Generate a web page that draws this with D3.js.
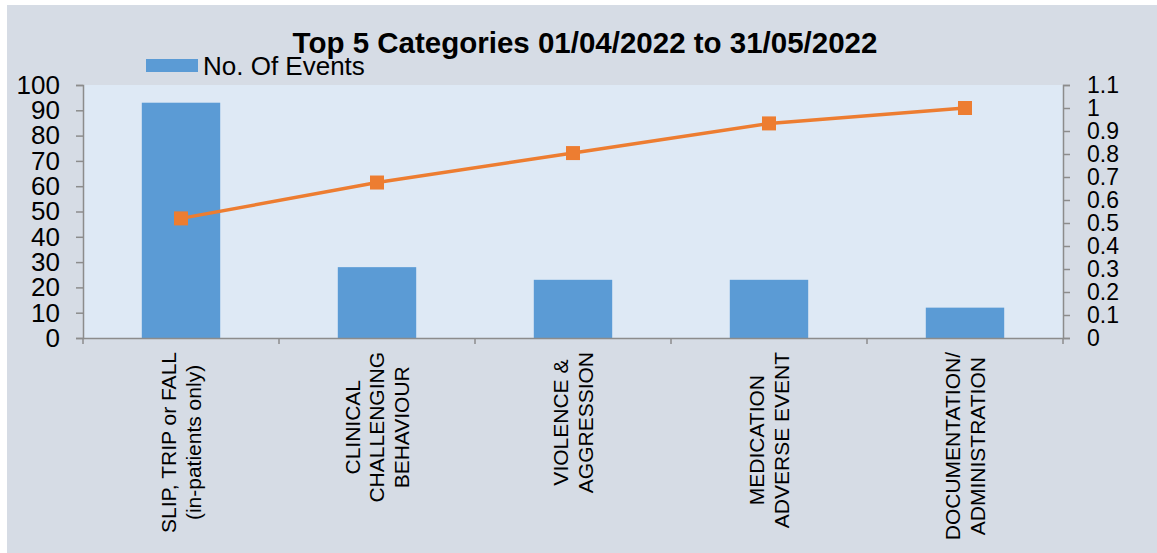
<!DOCTYPE html>
<html>
<head>
<meta charset="utf-8">
<script src="https://cdn.jsdelivr.net/npm/d3@7"></script>
<style>
  html, body { margin: 0; padding: 0; background: #ffffff; }
  svg { display: block; font-family: "Liberation Sans", Arial, sans-serif; }
</style>
</head>
<body>
<svg id="chart" width="1157" height="553"></svg>
<script>
// ---- data ----
const chartTitle = "Top 5 Categories 01/04/2022 to 31/05/2022";
const legendLabel = "No. Of Events";
const categories = [
  ["SLIP, TRIP or FALL", "(in-patients only)"],
  ["CLINICAL", "CHALLENGING", "BEHAVIOUR"],
  ["VIOLENCE &", "AGGRESSION"],
  ["MEDICATION", "ADVERSE EVENT"],
  ["DOCUMENTATION/", "ADMINISTRATION"]
];
const events = [93, 28, 23, 23, 12];
const cumulativeShare = [0.52, 0.676, 0.804, 0.933, 1.0];
const leftTicks = [0, 10, 20, 30, 40, 50, 60, 70, 80, 90, 100];
const rightTicks = [0, 0.1, 0.2, 0.3, 0.4, 0.5, 0.6, 0.7, 0.8, 0.9, 1.0, 1.1];

// ---- layout ----
const svg = d3.select("#chart");
const W = 1157, H = 553;
const plot = { left: 83, right: 1063, top: 85, bottom: 338 };

svg.append("rect").attr("x", 7).attr("y", 5).attr("width", W - 7).attr("height", H - 5)
  .attr("fill", "#d6dce5");

svg.append("rect").attr("x", plot.left).attr("y", plot.top)
  .attr("width", plot.right - plot.left).attr("height", plot.bottom - plot.top)
  .attr("fill", "#dee9f5");

const keys = categories.map((c, i) => "c" + i);
const x = d3.scaleBand().domain(keys).range([plot.left, plot.right]).paddingInner(0.6).paddingOuter(0.3);
const xOuter = d3.scaleBand().domain(keys).range([plot.left, plot.right]).padding(0);
const yL = d3.scaleLinear().domain([0, 100]).range([plot.bottom, plot.top]);
const yR = d3.scaleLinear().domain([0, 1.1]).range([plot.bottom, plot.top]);

// bars
svg.append("g").selectAll("rect").data(events).join("rect")
  .attr("x", (d, i) => x(keys[i]))
  .attr("width", x.bandwidth())
  .attr("y", d => yL(d))
  .attr("height", d => yL(0) - yL(d))
  .attr("fill", "#5b9bd5");

// axes
const axisColor = "#8c8c8c";
const gL = svg.append("g").attr("transform", `translate(${plot.left},0)`)
  .call(d3.axisLeft(yL).tickValues(leftTicks).tickSize(7).tickPadding(16).tickFormat(d3.format("d")));
gL.selectAll("text").attr("font-size", 26).attr("fill", "#000").attr("font-family", "Liberation Sans, Arial, sans-serif");

const gR = svg.append("g").attr("transform", `translate(${plot.right},0)`)
  .call(d3.axisRight(yR).tickValues(rightTicks).tickSize(7).tickPadding(17).tickFormat(d => d3.format("~g")(+d.toFixed(1))));
gR.selectAll("text").attr("font-size", 23).attr("fill", "#000").attr("font-family", "Liberation Sans, Arial, sans-serif");

const gX = svg.append("g").attr("transform", `translate(0,${plot.bottom})`)
  .call(d3.axisBottom(xOuter).tickValues([]).tickSizeOuter(0));
// category boundary ticks
const bounds = keys.map(k => xOuter(k)).concat([plot.right]);
gX.selectAll("line.b").data(bounds).join("line").attr("class", "b")
  .attr("x1", d => d).attr("x2", d => d).attr("y1", 0).attr("y2", 6)
  .attr("stroke", axisColor).attr("stroke-width", 1.5);

[gL, gR, gX].forEach(g => {
  g.selectAll("path.domain").attr("stroke", axisColor).attr("stroke-width", 1.5);
  g.selectAll(".tick line").attr("stroke", axisColor).attr("stroke-width", 1.5);
});

// category labels (rotated, multi-line, centred block)
const labelFont = 21, lineGap = 24.5, labelTop = 14;
categories.forEach((lines, i) => {
  const cx = xOuter(keys[i]) + xOuter.bandwidth() / 2;
  const g = svg.append("g").attr("transform", `translate(${cx},${plot.bottom}) rotate(-90)`);
  const texts = lines.map((ln, j) => g.append("text")
    .attr("text-anchor", "middle")
    .attr("font-size", labelFont)
    .attr("fill", "#000")
    .attr("y", (j - (lines.length - 1) / 2) * lineGap)
    .attr("dy", "0.35em")
    .text(ln));
  const maxW = d3.max(texts, t => t.node().getComputedTextLength());
  texts.forEach(t => t.attr("x", -(labelTop + maxW / 2)));
});

// cumulative line
const pts = cumulativeShare.map((v, i) => [x(keys[i]) + x.bandwidth() / 2, yR(v)]);
svg.append("path").datum(pts)
  .attr("d", d3.line())
  .attr("fill", "none").attr("stroke", "#ed7d31").attr("stroke-width", 3.5);
const ms = 14;
svg.append("g").selectAll("rect").data(pts).join("rect")
  .attr("x", d => d[0] - ms / 2).attr("y", d => d[1] - ms / 2)
  .attr("width", ms).attr("height", ms).attr("fill", "#ed7d31");

// title
svg.append("text").attr("x", 585).attr("y", 53).attr("text-anchor", "middle")
  .attr("font-size", 29.5).attr("font-weight", "bold").attr("fill", "#000")
  .text(chartTitle);

// legend
svg.append("rect").attr("x", 146).attr("y", 59).attr("width", 52).attr("height", 13).attr("fill", "#5b9bd5");
svg.append("text").attr("x", 203).attr("y", 75).attr("font-size", 26).attr("fill", "#000").text(legendLabel);
</script>
</body>
</html>
